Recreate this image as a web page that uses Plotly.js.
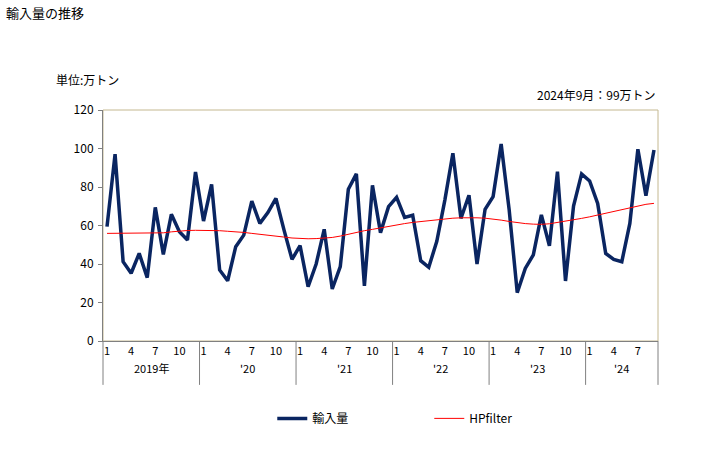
<!DOCTYPE html>
<html>
<head>
<meta charset="utf-8">
<script src="https://cdn.plot.ly/plotly-3.0.1.min.js"></script>
<style>
html,body{margin:0;padding:0;background:#fff;}
#chart{width:728px;height:450px;}
</style>
</head>
<body>
<div id="chart"></div>
<script>
// ---- data ----
const years = [2019, 2020, 2021, 2022, 2023, 2024];
const yearLabels = ["2019年", "'20", "'21", "'22", "'23", "'24"];
const monthsPerYear = [12, 12, 12, 12, 12, 9];
const monthTickLabels = ["1", "4", "7", "10"];

const imports = [
  59.4, 97.1, 41.2, 35.2, 45.5, 32.9, 69.4, 45.0, 65.8, 56.8, 52.5, 87.8,
  62.3, 81.4, 36.9, 31.3, 49.0, 55.0, 72.7, 61.1, 66.7, 74.1, 57.7, 42.4,
  49.5, 28.2, 40.0, 58.0, 27.0, 38.6, 78.8, 86.8, 28.7, 80.9, 56.3, 69.8,
  74.6, 64.2, 65.3, 41.7, 38.3, 51.8, 73.2, 97.5, 63.7, 75.7, 40.0, 68.4,
  75.0, 102.3, 68.0, 25.1, 37.7, 44.7, 65.5, 49.5, 88.0, 31.2, 70.1, 86.8,
  83.1, 71.5, 45.5, 42.4, 41.2, 61.1, 99.6, 75.5, 99.2
];
const hpfilter = [
  55.9, 55.9, 55.9, 55.9, 55.9, 55.9, 55.9, 56.2, 56.7, 57.2, 57.4, 57.5,
  57.5, 57.5, 57.3, 57.0, 56.8, 56.4, 55.9, 55.5, 55.0, 54.5, 54.0, 53.5,
  53.2, 53.1, 53.2, 53.4, 53.8, 54.5, 55.5, 56.5, 57.3, 58.0, 58.8, 59.6,
  60.4, 61.0, 61.6, 62.1, 62.6, 63.0, 63.4, 63.8, 64.0, 64.1, 64.0, 63.8,
  63.4, 62.8, 62.1, 61.4, 61.0, 60.7, 60.6, 60.9, 61.5, 62.2, 62.9, 63.7,
  64.5, 65.4, 66.3, 67.2, 68.2, 69.2, 70.2, 71.0, 71.5
];
const yTicks = [0, 20, 40, 60, 80, 100, 120];

// ---- build axis helpers ----
const xs = [], monthOf = [];
years.forEach((y, yi) => {
  for (let m = 1; m <= monthsPerYear[yi]; m++) { xs.push(xs.length); monthOf.push(m); }
});
const n = xs.length;
const tickvals = [], ticktext = [];
xs.forEach((x, i) => {
  const t = String(monthOf[i]);
  if (monthTickLabels.includes(t)) { tickvals.push(x); ticktext.push(t); }
});

const FONT = "'Noto Sans CJK JP', 'Liberation Sans', sans-serif";
const xr = [-0.5, n - 0.5];
const toPaper = v => (v - xr[0]) / (xr[1] - xr[0]);

const shapes = [];
const annotations = [];
// plot-area border (tan)
shapes.push({type:'rect', xref:'paper', yref:'paper', x0:0, x1:1, y0:0, y1:1,
  line:{color:'#c4b890', width:1}, layer:'below'});
// year dividers + year labels
let start = 0;
const bounds = [ -0.5 ];
years.forEach((y, yi) => {
  const end = start + monthsPerYear[yi];
  bounds.push(end - 0.5);
  annotations.push({xref:'paper', yref:'paper', x: (toPaper(start - 0.5) + toPaper(end - 0.5)) / 2,
    y: -0.117, yanchor:'middle', xanchor:'center', showarrow:false, text: yearLabels[yi],
    font:{family:FONT, size:11, color:'#000'}});
  start = end;
});
bounds.forEach(b => {
  shapes.push({type:'line', xref:'paper', yref:'paper', x0:toPaper(b), x1:toPaper(b),
    y0:0, y1:-0.19, line:{color:'#808080', width:1}});
});

annotations.push({xref:'paper', yref:'paper', x:-0.178, y:1.424, xanchor:'left', yanchor:'middle',
  showarrow:false, text:'輸入量の推移', font:{family:FONT, size:13, color:'#000'}});
annotations.push({xref:'paper', yref:'paper', x:-0.088, y:1.13, xanchor:'left', yanchor:'middle',
  showarrow:false, text:'単位:万トン', font:{family:FONT, size:12, color:'#000'}});
annotations.push({xref:'paper', yref:'paper', x:1.0, y:1.069, xanchor:'right', yanchor:'middle',
  showarrow:false, text:'2024年9月：99万トン', font:{family:FONT, size:12, color:'#000'}});

const traces = [
  {x: xs, y: imports, type:'scatter', mode:'lines', name:'輸入量',
   line:{color:'#0a2561', width:3.5}},
  {x: xs, y: hpfilter, type:'scatter', mode:'lines', name:'HPfilter',
   line:{color:'#ff0000', width:1}}
];

const layout = {
  width:728, height:450,
  margin:{l:103, r:70, t:110, b:109},
  paper_bgcolor:'#fff', plot_bgcolor:'#fff',
  font:{family:FONT, size:11, color:'#000'},
  showlegend:true,
  legend:{orientation:'h', x:0.305, xanchor:'left', y:-0.335, yanchor:'middle',
    font:{family:FONT, size:12, color:'#000'}, itemwidth:30, entrywidth:112},
  xaxis:{range:xr, tickmode:'array', tickvals:tickvals, ticktext:ticktext,
    showgrid:false, zeroline:false, showline:true, linecolor:'#808080', linewidth:1,
    ticks:'', tickfont:{family:FONT, size:11}, fixedrange:true},
  yaxis:{range:[0,120], tickmode:'array', tickvals:yTicks,
    showgrid:false, zeroline:false, showline:true, linecolor:'#808080', linewidth:1,
    ticks:'outside', ticklen:4, tickcolor:'#808080', tickfont:{family:FONT, size:12},
    ticklabelstandoff:2},
  shapes:shapes, annotations:annotations
};

Plotly.newPlot('chart', traces, layout, {staticPlot:true, displayModeBar:false});
</script>
</body>
</html>
